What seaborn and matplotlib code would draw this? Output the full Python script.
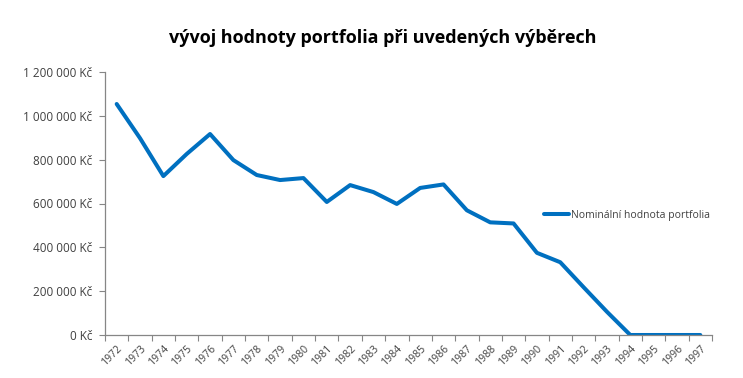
import numpy as np
import pandas as pd
import matplotlib
matplotlib.use('Agg')
import matplotlib.pyplot as plt
import seaborn as sns
from matplotlib.ticker import FuncFormatter, FixedLocator

years = [str(y) for y in range(1972, 1998)]
hodnota = [1054000, 898000, 725000, 826000, 917000, 798000, 730000, 707000, 716000,
           607000, 684000, 652000, 598000, 671000, 687000, 569000, 514000, 509000,
           375000, 332000, 218000, 106000, 0, 0, 0, 0]
serie = 'Nominální hodnota portfolia'
titulek = 'vývoj hodnoty portfolia při uvedených výběrech'

df = pd.DataFrame({'rok': years, 'idx': np.arange(len(years)), 'hodnota': hodnota})

sns.set_style('white')
plt.rcParams['font.family'] = ['Open Sans', 'DejaVu Sans']

fig = plt.figure(figsize=(7.43, 3.78), dpi=100)
ax = fig.add_axes([105/743, 1-335/378, (712-105)/743, (335-72)/378])

sns.lineplot(data=df, x='idx', y='hodnota', ax=ax, color='#0070C0', linewidth=2.9,
             label=serie, legend=False)

ax.set_xlim(-0.5, len(years) - 0.5)
ax.set_ylim(0, 1200000)
ax.set_yticks(np.arange(0, 1200001, 200000))

def kc(v, pos):
    return '{:,.0f} Kč'.format(v).replace(',', ' ')

ax.yaxis.set_major_formatter(FuncFormatter(kc))
ax.set_xticks(df['idx'])
ax.set_xticklabels(years, rotation=45, ha='right', rotation_mode='anchor')
ax.xaxis.set_minor_locator(FixedLocator(np.arange(-0.5, len(years), 1)))
ax.tick_params(axis='x', which='major', length=0, pad=6, labelsize=7.6, colors='#404040')
ax.tick_params(axis='x', which='minor', length=4, color='#868686', width=0.8, bottom=True)
ax.tick_params(axis='y', length=4, color='#868686', width=0.8, labelsize=8.5,
               labelcolor='#404040', left=True, pad=5)

for s in ['top', 'right']:
    ax.spines[s].set_visible(False)
for s in ['left', 'bottom']:
    ax.spines[s].set_color('#868686')
    ax.spines[s].set_linewidth(0.9)

ax.set_xlabel('')
ax.set_ylabel('')

handles, labels = ax.get_legend_handles_labels()
fig.legend(handles, labels, loc='center left', bbox_to_anchor=(535/743, 1-215/378),
           frameon=False, fontsize=7.5, handlelength=2.4, handletextpad=0.15,
           labelcolor='#404040')

fig.text(383/743, 1-38/378, titulek, ha='center', va='center', fontsize=13,
         fontweight='bold', color='black')

fig.savefig('out.png', dpi=100)
